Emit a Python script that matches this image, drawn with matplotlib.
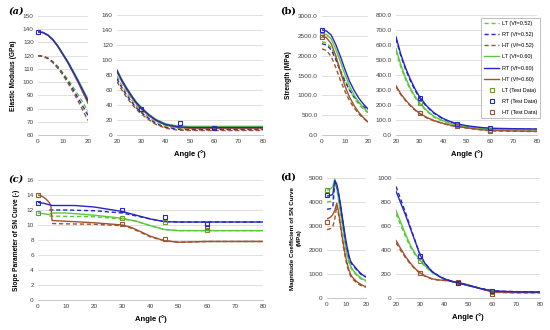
import matplotlib
matplotlib.use("Agg")
import matplotlib.pyplot as plt
from matplotlib.lines import Line2D

plt.rcParams['font.family'] = ['Liberation Sans', 'DejaVu Sans']

GREEN = '#5cc83a'
BLUE = '#2626c8'
BROWN = '#a0522d'
OLIVE = '#6b9a2e'

# ---- (a) elastic modulus ----
a_xl = [0, 2, 4, 6, 8, 10, 12, 14, 16, 18, 20]
a_lt60_l = [138, 137.6, 135.7, 132.3, 127.4, 121.5, 115.5, 108.8, 101.8, 94.5, 87]
a_rt60_l = [138, 137.5, 135.5, 132, 127, 121, 115, 108, 101, 93.5, 86]
a_ht60_l = [138, 137.4, 135.3, 131.7, 126.6, 120.5, 114.3, 107.2, 99.8, 92, 84]
a_lt52_l = [120, 119.6, 118.2, 115.5, 111.7, 107, 102, 96.5, 90.5, 84.5, 78]
a_rt52_l = [120, 119.5, 118, 115, 111, 106, 100.5, 94.5, 88, 81.5, 75]
a_ht52_l = [120, 119.4, 117.7, 114.6, 110.4, 105.2, 99.3, 92.8, 85.8, 78.5, 71]
a_xr = [20, 22, 24, 26, 28, 30, 33, 36, 40, 45, 50, 60, 70, 80]
a_lt60_r = [87, 74, 63, 53, 44, 37, 28, 21, 15, 12, 11.5, 11.5, 11.5, 11.5]
a_rt60_r = [86, 73, 62, 52, 43, 36, 27, 20, 14, 11, 10, 10, 10, 10]
a_ht60_r = [84, 71, 60, 50, 41.5, 34.5, 26, 19, 13, 10, 9, 9, 9, 9]
a_lt52_r = [78, 66, 56, 46.5, 38.5, 31.5, 23.5, 16.5, 11, 8.5, 8, 8, 8, 8]
a_rt52_r = [75, 63, 53, 44, 36, 30, 22, 15, 10, 7.5, 7, 7, 7, 7]
a_ht52_r = [71, 60, 50, 41.5, 34, 28, 20.5, 14, 9, 6.5, 6, 6, 6, 6]
a_test_x = [0, 30, 46, 60]
a_test_rt = [138, 35, 16, 9]

# ---- (b) strength ----
b_xl = [0, 2, 4, 6, 8, 10, 12, 14, 16, 18, 20]
b_lt60_l = [2560, 2530, 2420, 2160, 1850, 1520, 1230, 1000, 830, 690, 575]
b_rt60_l = [2650, 2620, 2520, 2280, 1980, 1650, 1350, 1120, 930, 780, 655]
b_ht60_l = [2500, 2450, 2300, 2000, 1600, 1230, 950, 740, 570, 440, 328]
b_lt52_l = [2350, 2320, 2200, 1950, 1650, 1380, 1130, 930, 770, 650, 560]
b_rt52_l = [2300, 2270, 2150, 1900, 1600, 1350, 1130, 960, 820, 720, 640]
b_ht52_l = [2170, 2130, 1980, 1700, 1380, 1100, 860, 680, 530, 420, 320]
b_xr = [20, 22, 24, 26, 28, 30, 33, 36, 40, 43, 46, 50, 55, 60, 70, 80]
b_lt60_r = [575, 470, 385, 315, 260, 215, 165, 125, 95, 78, 65, 55, 46, 40, 37, 35]
b_rt60_r = [655, 540, 450, 375, 310, 255, 195, 150, 110, 90, 75, 62, 52, 45, 42, 40]
b_ht60_r = [328, 275, 235, 200, 170, 145, 118, 97, 78, 66, 57, 48, 38, 30, 27, 25]
b_lt52_r = [560, 455, 372, 305, 252, 208, 160, 121, 92, 76, 63, 53, 44, 38, 35, 33]
b_rt52_r = [640, 530, 440, 365, 300, 248, 190, 146, 107, 88, 73, 60, 50, 43, 40, 38]
b_ht52_r = [320, 270, 230, 196, 167, 142, 115, 95, 76, 64, 55, 46, 36, 28, 25, 23]
b_test_x = [0, 30, 46, 60]
b_test_lt = [2520, 215, 65, 32]
b_test_rt = [2650, 247, 72, 45]
b_test_ht = [2470, 145, 58, 25]

# ---- (c) slope parameter ----
c_ht60_x = [0, 1, 2, 3, 4, 4.6, 5, 10, 20, 30, 33, 36, 40, 45, 50, 60, 80]
c_ht60 = [14.0, 13.9, 13.7, 13.4, 13.0, 12.5, 10.6, 10.5, 10.3, 10.0, 9.7, 9.2, 8.5, 7.9, 7.7, 7.8, 7.8]
c_ht52_x = [5, 10, 20, 30, 33, 36, 40, 45, 50, 60, 80]
c_ht52 = [10.2, 10.15, 10.1, 9.9, 9.6, 9.1, 8.4, 7.9, 7.7, 7.8, 7.8]
c_rt60_x = [0, 2, 4, 5, 10, 13, 20, 25, 30, 35, 40, 45, 50, 80]
c_rt60 = [13.0, 12.9, 12.7, 12.6, 12.6, 12.6, 12.4, 12.1, 11.8, 11.3, 10.8, 10.45, 10.4, 10.4]
c_rt52_x = [4, 10, 20, 30, 33, 35, 40, 45, 50, 80]
c_rt52 = [12.0, 12.0, 11.9, 11.6, 11.35, 11.2, 10.8, 10.45, 10.4, 10.4]
c_lt60_x = [0, 2, 4, 5, 10, 20, 30, 35, 40, 45, 50, 80]
c_lt60 = [11.6, 11.5, 11.4, 11.6, 11.6, 11.3, 10.9, 10.5, 9.9, 9.4, 9.25, 9.25]
c_lt52_x = [4, 10, 20, 30, 35, 40, 45, 50, 80]
c_lt52 = [11.2, 11.15, 11.1, 10.8, 10.5, 9.9, 9.4, 9.25, 9.25]
c_test_x = [0, 30, 45, 60]
c_test_lt = [11.6, 11.0, 10.4, 9.35]
c_test_rt = [12.9, 12.0, 11.1, 10.1]
c_test_ht = [14.0, 10.1, 8.2, 9.7]

# ---- (d) magnitude coefficient ----
d_xl = list(range(0, 21))
d_lt60_l = [4500, 4520, 4560, 4650, 4950, 4600, 4100, 3550, 3000, 2450, 1950, 1600, 1350, 1200, 1100, 1000, 930, 860, 800, 760, 730]
d_rt60_l = [4250, 4260, 4280, 4320, 4900, 4750, 4350, 3850, 3300, 2750, 2250, 1850, 1550, 1420, 1330, 1230, 1130, 1050, 980, 920, 890]
d_ht60_l = [3300, 3330, 3380, 3480, 3650, 3950, 3550, 3000, 2450, 1950, 1550, 1230, 1000, 870, 780, 700, 640, 590, 540, 500, 480]
d_lt52_l = [4000, 4010, 4030, 4100, 4850, 4550, 4050, 3500, 2950, 2400, 1900, 1550, 1300, 1150, 1050, 960, 890, 820, 770, 730, 700]
d_rt52_l = [3700, 3710, 3730, 3800, 4800, 4700, 4300, 3800, 3250, 2700, 2200, 1800, 1500, 1380, 1290, 1190, 1100, 1020, 950, 900, 870]
d_ht52_l = [2850, 2870, 2900, 2980, 3300, 3850, 3450, 2900, 2350, 1850, 1450, 1150, 930, 800, 720, 650, 590, 540, 500, 470, 450]
d_xr = [20, 22, 24, 26, 28, 30, 32, 35, 38, 40, 43, 46, 50, 55, 60, 65, 70, 80]
d_lt60_r = [730, 630, 530, 440, 370, 315, 270, 215, 180, 160, 140, 125, 105, 80, 58, 52, 50, 50]
d_rt60_r = [890, 790, 690, 580, 470, 360, 290, 220, 180, 160, 140, 125, 105, 80, 60, 55, 52, 50]
d_ht60_r = [480, 410, 345, 290, 245, 210, 185, 160, 150, 148, 140, 130, 110, 80, 50, 47, 45, 45]
d_lt52_r = [700, 605, 510, 425, 360, 308, 265, 212, 178, 158, 138, 123, 103, 78, 56, 50, 48, 48]
d_rt52_r = [930, 820, 710, 590, 475, 362, 292, 222, 182, 162, 142, 126, 106, 81, 61, 56, 53, 51]
d_ht52_r = [460, 395, 335, 283, 240, 206, 182, 158, 148, 146, 138, 128, 108, 78, 48, 45, 43, 43]
d_test_x = [0, 30, 46, 60]
d_test_lt = [4510, 311, 128, 50]
d_test_rt = [4290, 350, 122, 62]
d_test_ht = [3150, 211, 132, 35]

W, H = 550, 330
fig = plt.figure(figsize=(5.5, 3.3), dpi=100)


def add_ax(x1, x2, y1, y2):
    return fig.add_axes([x1 / W, 1 - y2 / H, (x2 - x1) / W, (y2 - y1) / H])


def excel(ax, xlim, xt, ylim, yt, fmt=None):
    ax.set_xlim(xlim)
    ax.set_ylim(ylim)
    ax.set_xticks(xt)
    ax.set_yticks(yt)
    if fmt:
        ax.set_yticklabels([fmt.format(v) for v in yt])
    ax.grid(axis='y', color='#d9d9d9', lw=0.6)
    ax.set_axisbelow(True)
    for s in ['top', 'right', 'left']:
        ax.spines[s].set_visible(False)
    ax.spines['bottom'].set_color('#bfbfbf')
    ax.spines['bottom'].set_linewidth(0.6)
    ax.tick_params(length=0, labelsize=4.6, colors='#404040', pad=3)


def lines(ax, vals, lw=1.0):
    # vals: list of (x, y, color, style)
    for x, y, c, ls in vals:
        ax.plot(x, y, color=c, ls=ls, lw=lw, dashes=(3, 2) if ls == '--' else (None, None))


def squares(ax, x, y, c):
    ax.plot(x, y, ls='none', marker='s', ms=2.6, mfc='none', mec=c, mew=0.8, clip_on=False)


XLAB = dict(fontsize=5.5, fontweight='bold', labelpad=4)

# (a)
ax = add_ax(38, 88, 16, 135)
excel(ax, (0, 20), [0, 10, 20], (60, 150), list(range(60, 151, 10)))
lines(ax, [(a_xl, a_lt52_l, GREEN, '--'), (a_xl, a_rt52_l, BLUE, '--'), (a_xl, a_ht52_l, BROWN, '--'),
           (a_xl, a_lt60_l, GREEN, '-'), (a_xl, a_ht60_l, BROWN, '-'), (a_xl, a_rt60_l, BLUE, '-')])
squares(ax, a_test_x[:1], a_test_rt[:1], BLUE)
ax.set_ylabel('Elastic Modulus (GPa)', fontsize=4.8, fontweight='bold', labelpad=4)

ax = add_ax(117, 263, 15, 135)
excel(ax, (20, 80), list(range(20, 81, 10)), (0, 160), list(range(0, 161, 20)))
lines(ax, [(a_xr, a_lt52_r, GREEN, '--'), (a_xr, a_rt52_r, BLUE, '--'), (a_xr, a_ht52_r, BROWN, '--'),
           (a_xr, a_lt60_r, GREEN, '-'), (a_xr, a_ht60_r, BROWN, '-'), (a_xr, a_rt60_r, BLUE, '-')])
squares(ax, a_test_x[1:], a_test_rt[1:], BLUE)
ax.set_xlabel('Angle (°)', **XLAB)

# (b)
ax = add_ax(322, 368, 16, 135)
excel(ax, (0, 20), [0, 10, 20], (0, 3000), list(range(0, 3001, 500)), '{:.1f}')
lines(ax, [(b_xl, b_lt52_l, GREEN, '--'), (b_xl, b_rt52_l, BLUE, '--'), (b_xl, b_ht52_l, BROWN, '--'),
           (b_xl, b_lt60_l, GREEN, '-'), (b_xl, b_ht60_l, BROWN, '-'), (b_xl, b_rt60_l, BLUE, '-')])
squares(ax, b_test_x[:1], b_test_lt[:1], OLIVE)
squares(ax, b_test_x[:1], b_test_ht[:1], BROWN)
squares(ax, b_test_x[:1], b_test_rt[:1], BLUE)
ax.set_ylabel('Strength (MPa)', fontsize=4.8, fontweight='bold', labelpad=4)

ax = add_ax(396, 537, 15, 135)
excel(ax, (20, 80), list(range(20, 81, 10)), (0, 800), list(range(0, 801, 100)), '{:.1f}')
lines(ax, [(b_xr, b_lt52_r, GREEN, '--'), (b_xr, b_rt52_r, BLUE, '--'), (b_xr, b_ht52_r, BROWN, '--'),
           (b_xr, b_lt60_r, GREEN, '-'), (b_xr, b_ht60_r, BROWN, '-'), (b_xr, b_rt60_r, BLUE, '-')])
squares(ax, b_test_x[1:], b_test_lt[1:], OLIVE)
squares(ax, b_test_x[1:], b_test_ht[1:], BROWN)
squares(ax, b_test_x[1:], b_test_rt[1:], BLUE)
ax.set_xlabel('Angle (°)', **XLAB)

handles = [
    Line2D([], [], color=GREEN, ls='--', lw=1.0, dashes=(3, 2)),
    Line2D([], [], color=BLUE, ls='--', lw=1.0, dashes=(3, 2)),
    Line2D([], [], color=BROWN, ls='--', lw=1.0, dashes=(3, 2)),
    Line2D([], [], color=GREEN, lw=1.0),
    Line2D([], [], color=BLUE, lw=1.0),
    Line2D([], [], color=BROWN, lw=1.0),
    Line2D([], [], ls='none', marker='s', ms=2.6, mfc='none', mec=OLIVE, mew=0.8),
    Line2D([], [], ls='none', marker='s', ms=2.6, mfc='none', mec=BLUE, mew=0.8),
    Line2D([], [], ls='none', marker='s', ms=2.6, mfc='none', mec=BROWN, mew=0.8),
]
labels = ['LT (Vf=0.52)', 'RT (Vf=0.52)', 'HT (Vf=0.52)',
          'LT (Vf=0.60)', 'RT (Vf=0.60)', 'HT (Vf=0.60)',
          'LT (Test Data)', 'RT (Test Data)', 'HT (Test Data)']
leg = fig.legend(handles, labels, loc='upper right', bbox_to_anchor=(543 / W, 1 - 15 / H),
                 fontsize=4.0, frameon=True, fancybox=False, edgecolor='#a0a0a0',
                 handlelength=2.6, labelspacing=1.1, borderpad=0.6, handletextpad=0.5)
leg.get_frame().set_linewidth(0.6)

# (c)
ax = add_ax(38, 263, 180, 300)
excel(ax, (0, 80), list(range(0, 81, 10)), (0, 16), list(range(0, 17, 2)))
lines(ax, [(c_lt52_x, c_lt52, GREEN, '--'), (c_rt52_x, c_rt52, BLUE, '--'), (c_ht52_x, c_ht52, BROWN, '--'),
           (c_lt60_x, c_lt60, GREEN, '-'), (c_ht60_x, c_ht60, BROWN, '-'), (c_rt60_x, c_rt60, BLUE, '-')])
squares(ax, c_test_x, c_test_lt, OLIVE)
squares(ax, c_test_x, c_test_ht, BROWN)
squares(ax, c_test_x, c_test_rt, BLUE)
ax.set_ylabel('Slope Parameter of SN Curve (-)', fontsize=4.8, fontweight='bold', labelpad=5)
ax.set_xlabel('Angle (°)', **XLAB)

# (d)
ax = add_ax(327, 366, 178, 298)
excel(ax, (0, 20), [0, 10, 20], (0, 5000), list(range(0, 5001, 1000)))
lines(ax, [(d_xl, d_lt52_l, GREEN, '--'), (d_xl, d_ht52_l, BROWN, '--'),
           (d_xl, d_lt60_l, GREEN, '-'), (d_xl, d_ht60_l, BROWN, '-'), (d_xl, d_rt60_l, BLUE, '-'),
           (d_xl, d_rt52_l, BLUE, '--')])
squares(ax, d_test_x[:1], d_test_lt[:1], OLIVE)
squares(ax, d_test_x[:1], d_test_ht[:1], BROWN)
squares(ax, d_test_x[:1], d_test_rt[:1], BLUE)
ax.set_ylabel('Magnitude Coefficient of SN Curve\n(MPa)', fontsize=4.5, fontweight='bold',
              labelpad=5, linespacing=1.3)

ax = add_ax(396, 540, 178, 298)
excel(ax, (20, 80), list(range(20, 81, 10)), (0, 1000), list(range(0, 1001, 200)))
lines(ax, [(d_xr, d_lt52_r, GREEN, '--'), (d_xr, d_ht52_r, BROWN, '--'),
           (d_xr, d_lt60_r, GREEN, '-'), (d_xr, d_ht60_r, BROWN, '-'), (d_xr, d_rt60_r, BLUE, '-'),
           (d_xr, d_rt52_r, BLUE, '--')])
squares(ax, d_test_x[1:], d_test_lt[1:], OLIVE)
squares(ax, d_test_x[1:], d_test_ht[1:], BROWN)
squares(ax, d_test_x[1:], d_test_rt[1:], BLUE)
ax.set_xlabel('Angle (°)', **XLAB)

# panel letters
for lab, x, y in [('(a)', 8, 14), ('(b)', 280, 14), ('(c)', 8, 182), ('(d)', 280, 180)]:
    fig.text(x / W, 1 - y / H, lab, fontsize=7, fontweight='bold', family='DejaVu Serif',
             fontstyle='italic' if lab in ('(a)', '(c)') else 'normal')

fig.savefig('out.png', dpi=100)
